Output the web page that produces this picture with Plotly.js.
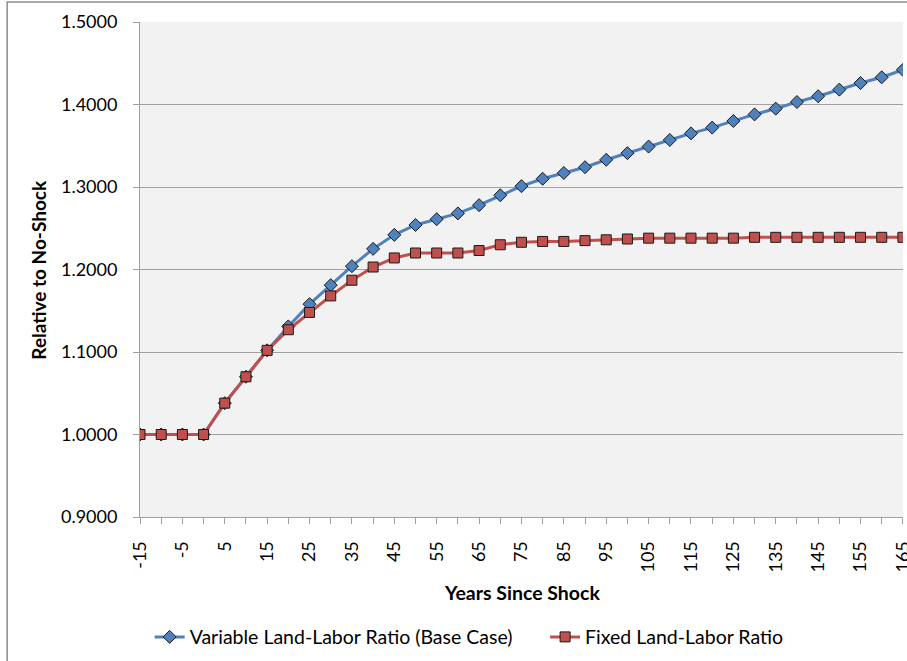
<!DOCTYPE html>
<html>
<head>
<meta charset="utf-8">
<script src="https://cdn.plot.ly/plotly-3.0.1.min.js"></script>
<style>html,body{margin:0;padding:0;background:#fff}#chart{width:907px;height:661px}</style>
</head>
<body>
<div id="chart"></div>
<script>
const years = [-15,-10,-5,0,5,10,15,20,25,30,35,40,45,50,55,60,65,70,75,80,85,90,95,100,105,110,115,120,125,130,135,140,145,150,155,160,165];
const variableRatio = [1.000,1.000,1.000,1.000,1.038,1.070,1.102,1.131,1.158,1.181,1.204,1.225,1.242,1.254,1.261,1.268,1.278,1.290,1.301,1.310,1.317,1.324,1.333,1.341,1.349,1.357,1.365,1.372,1.380,1.388,1.395,1.403,1.410,1.418,1.426,1.433,1.442];
const fixedRatio = [1.000,1.000,1.000,1.000,1.038,1.070,1.102,1.127,1.148,1.168,1.187,1.203,1.214,1.220,1.220,1.220,1.223,1.230,1.233,1.234,1.234,1.235,1.236,1.237,1.238,1.238,1.238,1.238,1.238,1.239,1.239,1.239,1.239,1.239,1.239,1.239,1.239];
const xTickLabels = ['-15','-5','5','15','25','35','45','55','65','75','85','95','105','115','125','135','145','155','165'];
const yTickVals = [0.9,1.0,1.1,1.2,1.3,1.4,1.5];
const seriesNames = ['Variable Land-Labor Ratio (Base Case)','Fixed Land-Labor Ratio'];

const FONT = 'Lato, "Open Sans", sans-serif';
const traces = [
  {x: years, y: variableRatio, name: seriesNames[0], type: 'scatter', mode: 'lines+markers', legend: 'legend',
   line: {color: '#4f81bd', width: 3},
   marker: {symbol: 'diamond', size: 10, color: '#4f81bd', line: {color: '#1a1a1a', width: 1}}},
  {x: years, y: fixedRatio, name: seriesNames[1], type: 'scatter', mode: 'lines+markers', legend: 'legend2',
   line: {color: '#c0504d', width: 3},
   marker: {symbol: 'square', size: 10, color: '#c0504d', line: {color: '#1a1a1a', width: 1}}}
];

const legendBase = {orientation: 'h', xref: 'container', yref: 'container', y: 0.036,
  xanchor: 'left', yanchor: 'middle', font: {family: FONT, size: 19.5, color: '#000'}, bgcolor: 'rgba(0,0,0,0)'};

const layout = {
  width: 907, height: 661,
  margin: {l: 140, r: 4, t: 22, b: 144},
  paper_bgcolor: '#ffffff',
  plot_bgcolor: '#f2f2f2',
  font: {family: FONT, size: 18, color: '#000'},
  showlegend: true,
  legend: Object.assign({}, legendBase, {x: 0.165}),
  legend2: Object.assign({}, legendBase, {x: 0.601}),
  xaxis: {
    range: [-15, 165.02], tickmode: 'array', tickvals: xTickLabels.map(Number), ticktext: xTickLabels,
    tickangle: -90, ticks: 'outside', ticklen: 6, tickcolor: '#a0a0a0', ticklabelstandoff: 10,
    ticklabeloverflow: 'allow',
    minor: {dtick: 5, tick0: 0, ticks: 'outside', ticklen: 6, tickcolor: '#a0a0a0', showgrid: false},
    showgrid: false, zeroline: false, showline: true, linecolor: '#a0a0a0', linewidth: 1,
    tickfont: {family: FONT, size: 18, color: '#000'}, fixedrange: true
  },
  yaxis: {
    range: [0.9, 1.5], tickmode: 'array', tickvals: yTickVals, tickformat: '.4f',
    ticks: 'outside', ticklen: 6, tickcolor: '#a0a0a0', ticklabelstandoff: 12,
    showgrid: true, gridcolor: '#a0a0a0', gridwidth: 1, zeroline: false,
    showline: true, linecolor: '#a0a0a0', linewidth: 1,
    tickfont: {family: FONT, size: 18, color: '#000'}, fixedrange: true
  },
  annotations: [
    {text: '<b>Years Since Shock</b>', xref: 'paper', yref: 'paper', x: 0.5, y: -0.1535,
     xanchor: 'center', yanchor: 'middle', showarrow: false, font: {family: FONT, size: 19.5, color: '#000'}},
    {text: '<b>Relative to No-Shock</b>', xref: 'paper', yref: 'paper', x: -0.1335, y: 0.5,
     xanchor: 'center', yanchor: 'middle', textangle: -90, showarrow: false, font: {family: FONT, size: 19, color: '#000'}}
  ],
  shapes: [
    {type: 'rect', xref: 'paper', yref: 'paper', x0: -0.1741, x1: 1.1, y0: -0.5, y1: 1.0404,
     line: {color: '#8c8c8c', width: 1.5}, fillcolor: 'rgba(0,0,0,0)', layer: 'below'}
  ]
};

Plotly.newPlot('chart', traces, layout, {staticPlot: true, displayModeBar: false});
</script>
</body>
</html>
